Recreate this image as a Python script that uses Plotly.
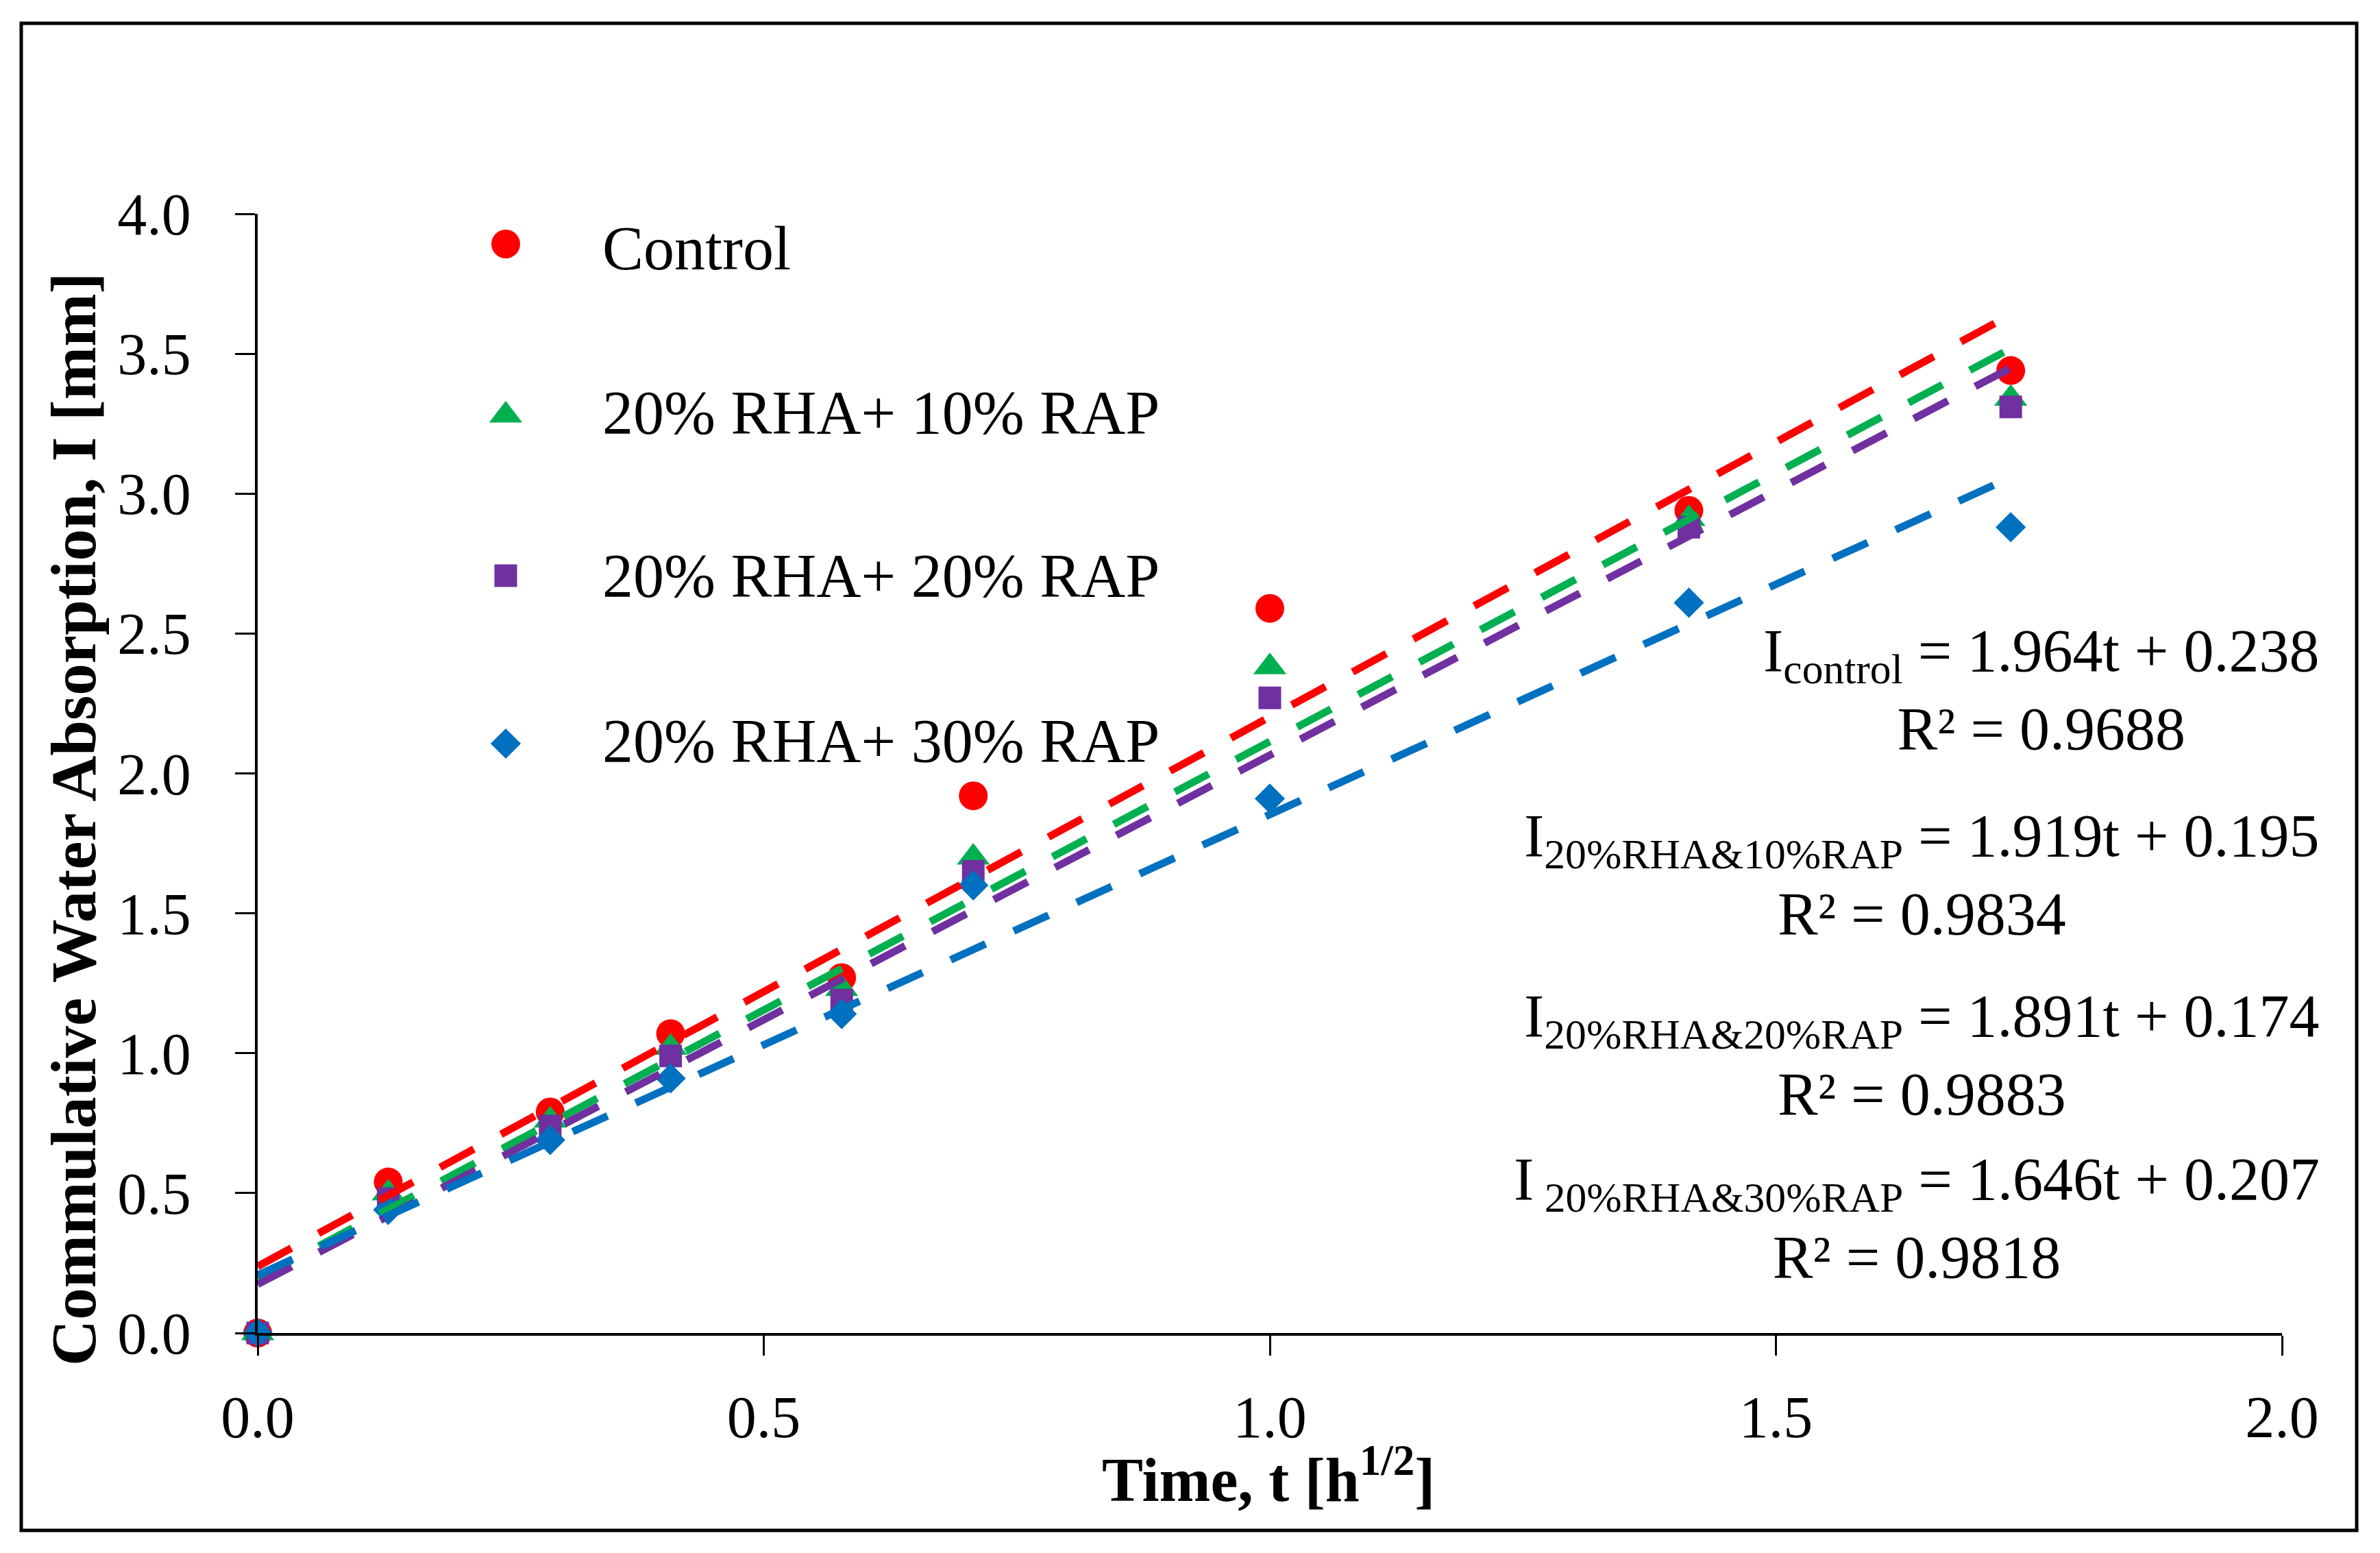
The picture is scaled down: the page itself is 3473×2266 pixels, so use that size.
import plotly.graph_objects as go

# ---------------- data ----------------
t_vals = [0.0, 0.129, 0.289, 0.408, 0.577, 0.707, 1.0, 1.414, 1.732]
control = [0.0, 0.54, 0.79, 1.07, 1.27, 1.92, 2.59, 2.94, 3.44]
rha_10 = [0.0, 0.50, 0.76, 1.02, 1.23, 1.70, 2.38, 2.91, 3.34]
rha_20 = [0.0, 0.48, 0.74, 0.99, 1.19, 1.65, 2.27, 2.88, 3.31]
rha_30 = [0.0, 0.44, 0.69, 0.91, 1.14, 1.60, 1.91, 2.61, 2.88]

series_names = ["Control", "20% RHA+ 10% RAP", "20% RHA+ 20% RAP", "20% RHA+ 30% RAP"]
slopes = [1.964, 1.919, 1.891, 1.646]
intercepts = [0.238, 0.195, 0.174, 0.207]
r2_vals = ["0.9688", "0.9834", "0.9883", "0.9818"]
eq_subs = ["control", "20%RHA&amp;10%RAP", "20%RHA&amp;20%RAP", " 20%RHA&amp;30%RAP"]
eq_prefix = ["I", "I", "I", "I"]

x_ticks = [0.0, 0.5, 1.0, 1.5, 2.0]
y_ticks = [0.0, 0.5, 1.0, 1.5, 2.0, 2.5, 3.0, 3.5, 4.0]

# ---------------- style ----------------
OFF = 8  # page body margin
PAGE_W, PAGE_H = 3473, 2266
W, H = PAGE_W - 2 * OFF, PAGE_H - 2 * OFF
PLOT_L, PLOT_R, PLOT_T, PLOT_B = 376, 3330, 312, 1945  # page coordinates
L, T = PLOT_L - OFF, PLOT_T - OFF
R, B = W - (PLOT_R - OFF), H - (PLOT_B - OFF)
PW, PH = PLOT_R - PLOT_L, PLOT_B - PLOT_T
FONT = "Liberation Serif"

colors = ["#FF0000", "#00B050", "#7030A0", "#0070C0"]
symbols = ["circle", "triangle-up", "square", "diamond"]
sizes = [42, 42, 33, 34]


def px_x(px):
    return (px - PLOT_L) / PW


def px_y(py):
    return (PLOT_B - py) / PH


series_vals = [control, rha_10, rha_20, rha_30]

fig = go.Figure()

# data markers
for name, vals, c, s, sz in zip(series_names, series_vals, colors, symbols, sizes):
    fig.add_trace(go.Scatter(
        x=t_vals, y=vals, mode="markers", name=name,
        marker=dict(color=c, symbol=s, size=sz, line=dict(width=0)),
        cliponaxis=False, showlegend=False,
    ))

# linear trend lines (dashed)
for name, m, b, c in zip(series_names, slopes, intercepts, colors):
    xs = [t_vals[0], t_vals[-1]]
    fig.add_trace(go.Scatter(
        x=xs, y=[m * x + b for x in xs], mode="lines",
        line=dict(color=c, width=11, dash="56px,45px"),
        showlegend=False, hoverinfo="skip", name=name + " trend",
    ))

# manual legend (large symbols) on an overlay unit frame
leg_marker_y = [356, 606, 840, 1085]
leg_text_y = [362, 602, 840, 1081]
leg_marker_x = 738
leg_text_x = 877
for i, (name, c, s, sz) in enumerate(zip(series_names, colors, symbols, sizes)):
    fig.add_trace(go.Scatter(
        x=[px_x(leg_marker_x)], y=[px_y(leg_marker_y[i])], mode="markers",
        xaxis="x2", yaxis="y2",
        marker=dict(color=c, symbol=s, size=sz, line=dict(width=0)),
        cliponaxis=False, showlegend=False, hoverinfo="skip",
    ))

annotations = []
for i, name in enumerate(series_names):
    annotations.append(dict(
        xref="paper", yref="paper", x=px_x(leg_text_x), y=px_y(leg_text_y[i]),
        xanchor="left", yanchor="middle", showarrow=False, text=name,
        font=dict(family=FONT, size=90, color="black"),
    ))

# equations
eq_centers = [1006, 1276, 1539, 1777]
for i in range(4):
    txt = (f"{eq_prefix[i]}<sub>{eq_subs[i]}</sub> = {slopes[i]:.3f}t + {intercepts[i]:.3f}"
           f"<br>R² = {r2_vals[i]}")
    annotations.append(dict(
        xref="paper", yref="paper", x=px_x(3387), y=px_y(eq_centers[i]),
        xanchor="right", yanchor="middle", align="center", showarrow=False,
        text=txt, font=dict(family=FONT, size=88, color="black"),
    ))

# axis titles
annotations.append(dict(
    xref="paper", yref="paper", x=px_x(1851), y=px_y(2152),
    xanchor="center", yanchor="middle", showarrow=False,
    text="<b>Time, t [h<sup>1/2</sup>]</b>",
    font=dict(family=FONT, size=90, color="black"),
))
annotations.append(dict(
    xref="paper", yref="paper", x=px_x(107), y=px_y(1195),
    xanchor="center", yanchor="middle", showarrow=False, textangle=-90,
    text="<b>Commulative Water Absorption, I [mm]</b>",
    font=dict(family=FONT, size=93, color="black"),
))

axis_common = dict(
    showline=True, linecolor="black", linewidth=4, mirror=False,
    ticks="outside", ticklen=29, tickwidth=3, tickcolor="black",
    showgrid=False, zeroline=False, tickformat=".1f",
    tickfont=dict(family=FONT, size=86, color="black"),
)

fig.update_layout(
    width=W, height=H,
    margin=dict(l=L, r=R, t=T, b=B, autoexpand=False),
    paper_bgcolor="white", plot_bgcolor="white",
    showlegend=False,
    xaxis=dict(range=[0, 2], tickvals=x_ticks, ticklabelstandoff=16, **axis_common),
    yaxis=dict(range=[0, 4], tickvals=y_ticks, ticklabelstandoff=47, **axis_common),
    xaxis2=dict(overlaying="x", range=[0, 1], visible=False, anchor="y2"),
    yaxis2=dict(overlaying="y", range=[0, 1], visible=False, anchor="x2"),
    annotations=annotations,
    shapes=[dict(
        type="rect", xref="paper", yref="paper",
        x0=px_x(31), x1=px_x(3439), y0=px_y(2233), y1=px_y(34),
        line=dict(color="black", width=5), fillcolor="rgba(0,0,0,0)", layer="below",
    )],
)

fig.write_html("out.html")
